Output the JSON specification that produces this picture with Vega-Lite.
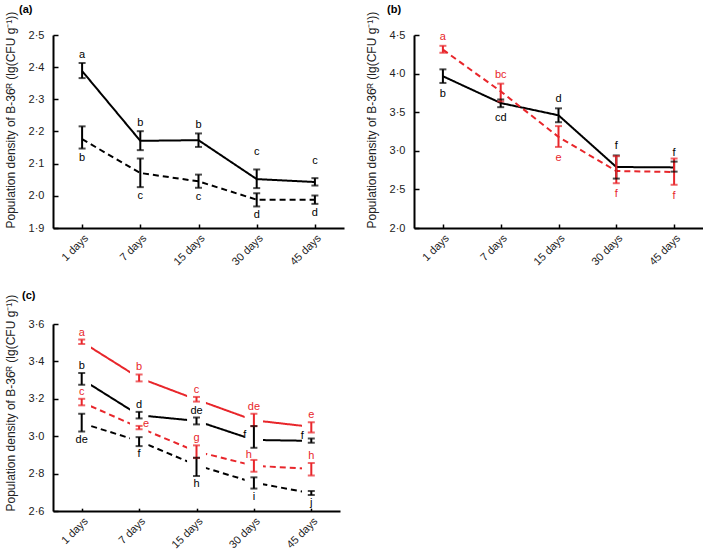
{
  "$schema": "https://vega.github.io/schema/vega-lite/v6.json",
  "padding": {"left": 4, "top": 4, "right": 0, "bottom": 0},
  "bounds": "flush",
  "columns": 2,
  "spacing": {"row": 96, "column": 70},
  "config": {
    "font": "Liberation Sans",
    "view": {"stroke": null},
    "axis": {"grid": false, "domainColor": "black", "domainWidth": 2, "tickColor": "black", "tickWidth": 1.5, "labelFontSize": 11, "labelColor": "#222", "titleFontSize": 12, "titleFontWeight": "normal", "titleColor": "#222", "zindex": 1, "labelOverlap": false},
    "title": {"fontSize": 11, "fontWeight": "bold", "anchor": "start", "frame": "group", "color": "black", "offset": 0},
    "text": {"fontSize": 11, "baseline": "middle", "align": "center"}
  },
  "datasets": {
    "pa": [
      {"day": "1 days", "series": "A1", "mean": 2.388, "lo": 2.366, "hi": 2.413, "label": "a", "pos": "above"},
      {"day": "7 days", "series": "A1", "mean": 2.171, "lo": 2.142, "hi": 2.201, "label": "b", "pos": "above"},
      {"day": "15 days", "series": "A1", "mean": 2.173, "lo": 2.152, "hi": 2.194, "label": "b", "pos": "above"},
      {"day": "30 days", "series": "A1", "mean": 2.052, "lo": 2.024, "hi": 2.082, "label": "c", "pos": "above2"},
      {"day": "45 days", "series": "A1", "mean": 2.043, "lo": 2.032, "hi": 2.055, "label": "c", "pos": "above2"},
      {"day": "1 days", "series": "A2", "mean": 2.176, "lo": 2.147, "hi": 2.216, "label": "b", "pos": "below"},
      {"day": "7 days", "series": "A2", "mean": 2.071, "lo": 2.027, "hi": 2.116, "label": "c", "pos": "below"},
      {"day": "15 days", "series": "A2", "mean": 2.045, "lo": 2.025, "hi": 2.066, "label": "c", "pos": "below"},
      {"day": "30 days", "series": "A2", "mean": 1.988, "lo": 1.967, "hi": 2.008, "label": "d", "pos": "below"},
      {"day": "45 days", "series": "A2", "mean": 1.988, "lo": 1.975, "hi": 2.001, "label": "d", "pos": "below"}
    ],
    "pb": [
      {"day": "1 days", "series": "B1", "mean": 3.966, "lo": 3.879, "hi": 4.055, "label": "b", "pos": "below"},
      {"day": "7 days", "series": "B1", "mean": 3.619, "lo": 3.565, "hi": 3.665, "label": "cd", "pos": "below"},
      {"day": "15 days", "series": "B1", "mean": 3.46, "lo": 3.37, "hi": 3.55, "label": "d", "pos": "above"},
      {"day": "30 days", "series": "B1", "mean": 2.79, "lo": 2.64, "hi": 2.94, "label": "f", "pos": "above"},
      {"day": "45 days", "series": "B1", "mean": 2.785, "lo": 2.73, "hi": 2.86, "label": "f", "pos": "above"},
      {"day": "1 days", "series": "B2", "mean": 4.31, "lo": 4.27, "hi": 4.36, "label": "a", "pos": "above"},
      {"day": "7 days", "series": "B2", "mean": 3.77, "lo": 3.64, "hi": 3.87, "label": "bc", "pos": "above"},
      {"day": "15 days", "series": "B2", "mean": 3.18, "lo": 3.05, "hi": 3.32, "label": "e", "pos": "below"},
      {"day": "30 days", "series": "B2", "mean": 2.738, "lo": 2.58, "hi": 2.93, "label": "f", "pos": "below"},
      {"day": "45 days", "series": "B2", "mean": 2.725, "lo": 2.56, "hi": 2.9, "label": "f", "pos": "below"}
    ],
    "pc": [
      {"day": "1 days", "series": "C1", "mean": 3.505, "lo": 3.493, "hi": 3.517, "label": "a", "pos": "above"},
      {"day": "7 days", "series": "C1", "mean": 3.312, "lo": 3.293, "hi": 3.33, "label": "b", "pos": "above"},
      {"day": "15 days", "series": "C1", "mean": 3.196, "lo": 3.185, "hi": 3.21, "label": "c", "pos": "above"},
      {"day": "30 days", "series": "C1", "mean": 3.085, "lo": 3.054, "hi": 3.12, "label": "de", "pos": "above"},
      {"day": "45 days", "series": "C1", "mean": 3.05, "lo": 3.02, "hi": 3.075, "label": "e", "pos": "above"},
      {"day": "1 days", "series": "C2", "mean": 3.305, "lo": 3.275, "hi": 3.338, "label": "b", "pos": "above"},
      {"day": "7 days", "series": "C2", "mean": 3.112, "lo": 3.095, "hi": 3.13, "label": "d", "pos": "above"},
      {"day": "15 days", "series": "C2", "mean": 3.082, "lo": 3.063, "hi": 3.1, "label": "de", "pos": "above"},
      {"day": "30 days", "series": "C2", "mean": 2.98, "lo": 2.938, "hi": 3.054, "label": "f", "pos": "left"},
      {"day": "45 days", "series": "C2", "mean": 2.975, "lo": 2.965, "hi": 2.988, "label": "f", "pos": "left"},
      {"day": "1 days", "series": "C3", "mean": 3.182, "lo": 3.165, "hi": 3.2, "label": "c", "pos": "above"},
      {"day": "7 days", "series": "C3", "mean": 3.046, "lo": 3.037, "hi": 3.055, "label": "e", "pos": "right"},
      {"day": "15 days", "series": "C3", "mean": 2.918, "lo": 2.883, "hi": 2.951, "label": "g", "pos": "above"},
      {"day": "30 days", "series": "C3", "mean": 2.842, "lo": 2.81, "hi": 2.873, "label": "h", "pos": "upleft"},
      {"day": "45 days", "series": "C3", "mean": 2.825, "lo": 2.79, "hi": 2.857, "label": "h", "pos": "above"},
      {"day": "1 days", "series": "C4", "mean": 3.07, "lo": 3.025, "hi": 3.12, "label": "de", "pos": "below"},
      {"day": "7 days", "series": "C4", "mean": 2.974, "lo": 2.947, "hi": 2.995, "label": "f", "pos": "below"},
      {"day": "15 days", "series": "C4", "mean": 2.845, "lo": 2.787, "hi": 2.885, "label": "h", "pos": "below"},
      {"day": "30 days", "series": "C4", "mean": 2.752, "lo": 2.72, "hi": 2.78, "label": "i", "pos": "below"},
      {"day": "45 days", "series": "C4", "mean": 2.695, "lo": 2.685, "hi": 2.707, "label": "j", "pos": "below"}
    ]
  },
  "resolve": {"scale": {"color": "independent", "strokeDash": "independent"}},
  "concat": [
    {
      "width": 291, "height": 193,
      "title": {"text": "(a)", "dx": -34, "dy": 8},
      "data": {"name": "pa"},
      "encoding": {
        "x": {"field": "day", "type": "ordinal", "sort": ["1 days", "7 days", "15 days", "30 days", "45 days"], "scale": {"type": "point", "padding": 0.5}, "axis": {"title": null, "labelAngle": -45, "labelAlign": "right", "labelBaseline": "top", "tickSize": -4, "labelPadding": 8, "labelOverlap": false}},
        "color": {"field": "series", "type": "nominal", "scale": {"domain": ["A1", "A2"], "range": ["black", "black"]}, "legend": null}
      },
      "layer": [
        {"mark": {"type": "line", "strokeWidth": 2}, "encoding": {
          "y": {"field": "mean", "type": "quantitative", "scale": {"domain": [1.9, 2.5], "nice": false, "zero": false}, "axis": {"values": [1.9, 2.0, 2.1, 2.2, 2.3, 2.4, 2.5], "tickCount": 50, "labelExpr": "replace(format(datum.value, '.1f'), '.', '·')", "labelOverlap": false, "title": "Population density of B-36ᴿ (lg(CFU g⁻¹))", "titleAnchor": "start", "tickSize": -5, "labelPadding": 14, "titlePadding": 11}},
          "strokeDash": {"field": "series", "type": "nominal", "scale": {"domain": ["A1", "A2"], "range": [[1, 0], [6, 4]]}, "legend": null}}},
        {"mark": {"type": "rule", "strokeWidth": 2}, "encoding": {"y": {"field": "lo", "type": "quantitative"}, "y2": {"field": "hi"}}},
        {"mark": {"type": "tick", "thickness": 2, "size": 7}, "encoding": {"y": {"field": "lo", "type": "quantitative"}}},
        {"mark": {"type": "tick", "thickness": 2, "size": 7}, "encoding": {"y": {"field": "hi", "type": "quantitative"}}},
        {"transform": [{"filter": "datum.pos == 'above'"}], "mark": {"type": "text", "dy": -8}, "encoding": {"y": {"field": "hi", "type": "quantitative"}, "text": {"field": "label"}}},
        {"transform": [{"filter": "datum.pos == 'above2'"}], "mark": {"type": "text", "dy": -17}, "encoding": {"y": {"field": "hi", "type": "quantitative"}, "text": {"field": "label"}}},
        {"transform": [{"filter": "datum.pos == 'below'"}], "mark": {"type": "text", "dy": 9}, "encoding": {"y": {"field": "lo", "type": "quantitative"}, "text": {"field": "label"}}}
      ]
    },
    {
      "width": 289, "height": 193,
      "title": {"text": "(b)", "dx": -27, "dy": 8},
      "data": {"name": "pb"},
      "encoding": {
        "x": {"field": "day", "type": "ordinal", "sort": ["1 days", "7 days", "15 days", "30 days", "45 days"], "scale": {"type": "point", "padding": 0.5}, "axis": {"title": null, "labelAngle": -45, "labelAlign": "right", "labelBaseline": "top", "tickSize": -4, "labelPadding": 8, "labelOverlap": false}},
        "color": {"field": "series", "type": "nominal", "scale": {"domain": ["B1", "B2"], "range": ["black", "#e8262b"]}, "legend": null}
      },
      "layer": [
        {"mark": {"type": "line", "strokeWidth": 2}, "encoding": {
          "y": {"field": "mean", "type": "quantitative", "scale": {"domain": [2.0, 4.5], "nice": false, "zero": false}, "axis": {"values": [2.0, 2.5, 3.0, 3.5, 4.0, 4.5], "tickCount": 50, "labelExpr": "replace(format(datum.value, '.1f'), '.', '·')", "labelOverlap": false, "title": "Population density of B-36ᴿ (lg(CFU g⁻¹))", "titleAnchor": "start", "tickSize": -5, "labelPadding": 14, "titlePadding": 11}},
          "strokeDash": {"field": "series", "type": "nominal", "scale": {"domain": ["B1", "B2"], "range": [[1, 0], [6, 4]]}, "legend": null}}},
        {"mark": {"type": "rule", "strokeWidth": 2}, "encoding": {"y": {"field": "lo", "type": "quantitative"}, "y2": {"field": "hi"}}},
        {"mark": {"type": "tick", "thickness": 2, "size": 7}, "encoding": {"y": {"field": "lo", "type": "quantitative"}}},
        {"mark": {"type": "tick", "thickness": 2, "size": 7}, "encoding": {"y": {"field": "hi", "type": "quantitative"}}},
        {"transform": [{"filter": "datum.pos == 'above'"}], "mark": {"type": "text", "dy": -9}, "encoding": {"y": {"field": "hi", "type": "quantitative"}, "text": {"field": "label"}}},
        {"transform": [{"filter": "datum.pos == 'below'"}], "mark": {"type": "text", "dy": 11}, "encoding": {"y": {"field": "lo", "type": "quantitative"}, "text": {"field": "label"}}}
      ]
    },
    {
      "width": 287, "height": 187,
      "title": {"text": "(c)", "dx": -31, "dy": 11},
      "data": {"name": "pc"},
      "encoding": {
        "x": {"field": "day", "type": "ordinal", "sort": ["1 days", "7 days", "15 days", "30 days", "45 days"], "scale": {"type": "point", "padding": 0.5}, "axis": {"title": null, "labelAngle": -45, "labelAlign": "right", "labelBaseline": "top", "tickSize": -4, "labelPadding": 8, "labelOverlap": false}},
        "color": {"field": "series", "type": "nominal", "scale": {"domain": ["C1", "C2", "C3", "C4"], "range": ["#e8262b", "black", "#e8262b", "black"]}, "legend": null}
      },
      "layer": [
        {"mark": {"type": "line", "strokeWidth": 2}, "encoding": {
          "y": {"field": "mean", "type": "quantitative", "scale": {"domain": [2.6, 3.6], "nice": false, "zero": false}, "axis": {"values": [2.6, 2.8, 3.0, 3.2, 3.4, 3.6], "tickCount": 50, "labelExpr": "replace(format(datum.value, '.1f'), '.', '·')", "labelOverlap": false, "title": "Population density of B-36ᴿ (lg(CFU g⁻¹))", "titleAnchor": "start", "tickSize": -5, "labelPadding": 14, "titlePadding": 11}},
          "strokeDash": {"field": "series", "type": "nominal", "scale": {"domain": ["C1", "C2", "C3", "C4"], "range": [[1, 0], [1, 0], [6, 4], [6, 4]]}, "legend": null}}},
        {"mark": {"type": "rule", "strokeWidth": 18, "strokeCap": "butt"}, "encoding": {"y": {"datum": 3.59}, "y2": {"datum": 2.615}, "color": {"value": "white"}}},
        {"mark": {"type": "rule", "strokeWidth": 2}, "encoding": {"y": {"field": "lo", "type": "quantitative"}, "y2": {"field": "hi"}}},
        {"mark": {"type": "tick", "thickness": 2, "size": 7}, "encoding": {"y": {"field": "lo", "type": "quantitative"}}},
        {"mark": {"type": "tick", "thickness": 2, "size": 7}, "encoding": {"y": {"field": "hi", "type": "quantitative"}}},
        {"transform": [{"filter": "datum.pos == 'above'"}], "mark": {"type": "text", "dy": -7}, "encoding": {"y": {"field": "hi", "type": "quantitative"}, "text": {"field": "label"}}},
        {"transform": [{"filter": "datum.pos == 'below'"}], "mark": {"type": "text", "dy": 8}, "encoding": {"y": {"field": "lo", "type": "quantitative"}, "text": {"field": "label"}}},
        {"transform": [{"filter": "datum.pos == 'left'"}], "mark": {"type": "text", "dx": -9, "dy": -5}, "encoding": {"y": {"field": "mean", "type": "quantitative"}, "text": {"field": "label"}}},
        {"transform": [{"filter": "datum.pos == 'right'"}], "mark": {"type": "text", "dx": 7, "dy": -4}, "encoding": {"y": {"field": "mean", "type": "quantitative"}, "text": {"field": "label"}}},
        {"transform": [{"filter": "datum.pos == 'upleft'"}], "mark": {"type": "text", "dx": -5, "dy": -5}, "encoding": {"y": {"field": "hi", "type": "quantitative"}, "text": {"field": "label"}}}
      ]
    }
  ]
}
